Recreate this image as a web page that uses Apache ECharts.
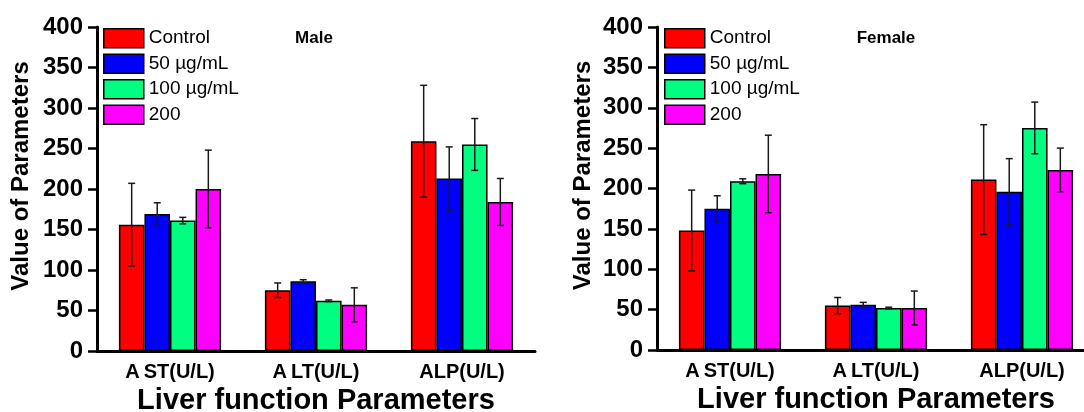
<!DOCTYPE html>
<html>
<head>
<meta charset="utf-8">
<title>Liver function Parameters</title>
<script src="https://cdn.jsdelivr.net/npm/echarts@6/dist/echarts.min.js"></script>
<style>
  html, body { margin: 0; padding: 0; background: #fff; }
  #chart { width: 1084px; height: 412px; }
</style>
</head>
<body>
<div id="chart"></div>
<script>
// Categories and dose groups
const categories = ['A\u2009ST(U/L)', 'A\u2009LT(U/L)', 'ALP(U/L)'];
const groups = ['Control', '50 µg/mL', '100 µg/mL', '200'];
const groupColors = ['#ff0000', '#0000ff', '#00ff80', '#ff00ff'];
const yTicks = [0, 50, 100, 150, 200, 250, 300, 350, 400];

// Male: mean values per group (AST, ALT, ALP) and their error ranges
const maleControl = [156, 75, 259];
const male50 = [169, 86, 213];
const male100 = [161, 62, 255];
const male200 = [200, 57, 184];
const maleControlErr = [51, 9, 69];
const male50Err = [14, 2, 39];
const male100Err = [4, 1, 32];
const male200Err = [48, 21, 29];

// Female: mean values per group (AST, ALT, ALP) and their error ranges
const femaleControl = [148, 55, 211];
const female50 = [175, 56, 196];
const female100 = [209, 52, 275];
const female200 = [218, 52, 223];
const femaleControlErr = [50, 10, 68];
const female50Err = [16, 3, 41];
const female100Err = [3, 1, 32];
const female200Err = [48, 21, 27];

const maleMeans = [maleControl, male50, male100, male200];
const maleErrs = [maleControlErr, male50Err, male100Err, male200Err];
const femaleMeans = [femaleControl, female50, female100, female200];
const femaleErrs = [femaleControlErr, female50Err, female100Err, female200Err];

const FONT = '"Liberation Sans", Arial, sans-serif';
const CAT_GAP = 0.30;

function errorData(means, errs) {
  const out = [];
  means.forEach((arr, g) => arr.forEach((m, c) => out.push([c, m, errs[g][c], g])));
  return out;
}

// Error bar with caps, drawn at the centre of each bar in the cluster
function renderError(params, api) {
  const c = api.value(0), m = api.value(1), e = api.value(2), g = api.value(3);
  const band = api.size([1, 0])[0];
  const bw = band * (1 - CAT_GAP) / groups.length;
  const centre = api.coord([c, m]);
  const x = centre[0] + (g - (groups.length - 1) / 2) * bw;
  const top = api.coord([c, m + e])[1];
  const bot = api.coord([c, m - e])[1];
  const cap = 3.5;
  const style = { stroke: '#1a1a1a', lineWidth: 1.5 };
  return {
    type: 'group',
    children: [
      { type: 'line', shape: { x1: x, y1: top, x2: x, y2: bot }, style },
      { type: 'line', shape: { x1: x - cap, y1: top, x2: x + cap, y2: top }, style },
      { type: 'line', shape: { x1: x - cap, y1: bot, x2: x + cap, y2: bot }, style }
    ]
  };
}

function xAxisFor(gridIndex) {
  return {
    type: 'category',
    gridIndex,
    data: categories,
    name: 'Liver function Parameters',
    nameLocation: 'middle',
    nameGap: 33,
    nameTextStyle: { fontFamily: FONT, fontWeight: 'bold', fontSize: 29, color: '#000' },
    axisLine: { lineStyle: { color: '#000', width: 3 } },
    axisTick: { alignWithLabel: true, length: 7, lineStyle: { color: '#000', width: 3 } },
    axisLabel: { fontFamily: FONT, fontWeight: 'bold', fontSize: 20, color: '#000', margin: 11 },
    splitLine: { show: false }
  };
}

function yAxisFor(gridIndex, gap) {
  return {
    type: 'value',
    gridIndex,
    min: yTicks[0],
    max: yTicks[yTicks.length - 1],
    interval: yTicks[1] - yTicks[0],
    name: 'Value of Parameters',
    nameLocation: 'middle',
    nameGap: gap,
    nameTextStyle: { fontFamily: FONT, fontWeight: 'bold', fontSize: 24, color: '#000', padding: [0, 0, 0, 26] },
    axisLine: { show: true, lineStyle: { color: '#000', width: 3 } },
    axisTick: { show: true, length: 9, lineStyle: { color: '#000', width: 2.5 } },
    axisLabel: { fontFamily: FONT, fontWeight: 'bold', fontSize: 24, color: '#000', margin: 14 },
    splitLine: { show: false }
  };
}

function barSeries(means, idx) {
  return means.map((vals, g) => ({
    type: 'bar',
    name: groups[g],
    xAxisIndex: idx,
    yAxisIndex: idx,
    data: vals,
    barGap: '0%',
    barCategoryGap: (CAT_GAP * 100) + '%',
    itemStyle: { color: groupColors[g], borderColor: '#000', borderWidth: 1.5 },
    emphasis: { disabled: true }
  }));
}

function legendFor(left) {
  return {
    left,
    top: 28,
    orient: 'vertical',
    data: groups,
    icon: 'rect',
    itemWidth: 40,
    itemHeight: 19,
    itemGap: 5,
    padding: 0,
    selectedMode: false,
    itemStyle: { borderColor: '#000', borderWidth: 1.5 },
    textStyle: { fontFamily: FONT, fontSize: 19, color: '#000', padding: [0, 0, 0, 0] }
  };
}

const chart = echarts.init(document.getElementById('chart'), null, { renderer: 'canvas' });

chart.setOption({
  backgroundColor: '#fff',
  animation: false,
  color: groupColors,
  title: [
    { text: 'Male', left: 314, top: 30, textAlign: 'center', padding: 0,
      textStyle: { fontFamily: FONT, fontWeight: 'bold', fontSize: 17, color: '#000' } },
    { text: 'Female', left: 886, top: 30, textAlign: 'center', padding: 0,
      textStyle: { fontFamily: FONT, fontWeight: 'bold', fontSize: 17, color: '#000' } }
  ],
  legend: [legendFor(103), legendFor(664)],
  grid: [
    { left: 97, top: 27, width: 438, height: 324, outerBoundsMode: 'none' },
    { left: 657, top: 27, width: 438, height: 323, outerBoundsMode: 'none' }
  ],
  xAxis: [xAxisFor(0), xAxisFor(1)],
  yAxis: [yAxisFor(0, 64), yAxisFor(1, 62)],
  series: [
    ...barSeries(maleMeans, 0),
    ...barSeries(femaleMeans, 1),
    { type: 'custom', name: 'male-error', xAxisIndex: 0, yAxisIndex: 0, z: 5,
      renderItem: renderError, data: errorData(maleMeans, maleErrs) },
    { type: 'custom', name: 'female-error', xAxisIndex: 1, yAxisIndex: 1, z: 5,
      renderItem: renderError, data: errorData(femaleMeans, femaleErrs) }
  ]
});
</script>
</body>
</html>
